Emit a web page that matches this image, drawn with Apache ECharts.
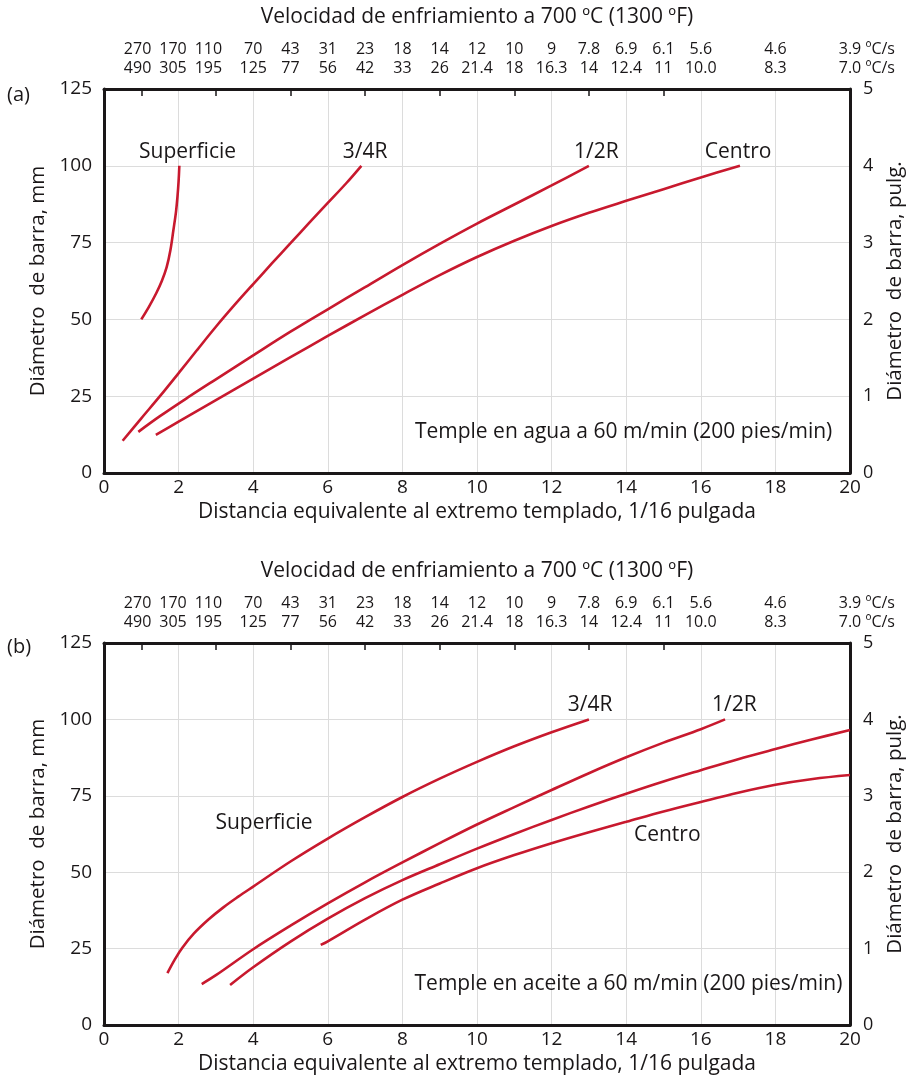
<!DOCTYPE html>
<html lang="es">
<head>
<meta charset="UTF-8">
<title>Diámetro de barra vs distancia Jominy</title>
<script src="https://cdn.jsdelivr.net/npm/echarts@6/dist/echarts.min.js"></script>
<style>
  html, body { margin: 0; padding: 0; background: #fff; }
  #chart { width: 919px; height: 1081px; }
</style>
</head>
<body>
<div id="chart"></div>
<script>
// escala superior: velocidad de enfriamiento (posicion en 1/16 pulg.)
var topLabelPos = [0.9, 1.85, 2.8, 4, 5, 6, 7, 8, 9, 10, 11, 12, 13, 14, 15, 16, 18, 20];
var rateRow1 = ['270', '170', '110', '70', '43', '31', '23', '18', '14', '12', '10', '9', '7.8', '6.9', '6.1', '5.6', '4.6', '3.9'];
var rateRow2 = ['490', '305', '195', '125', '77', '56', '42', '33', '26', '21.4', '18', '16.3', '14', '12.4', '11', '10.0', '8.3', '7.0'];
var topTicks = [1, 3, 5, 7, 9, 11, 13, 15];

// (a) temple en agua
var aSuperficie = [[1.0, 50], [1.2, 54], [1.4, 58.5], [1.55, 62.5], [1.68, 67], [1.78, 72.5], [1.86, 79], [1.93, 85], [1.97, 90], [2.0, 95], [2.02, 100]];
var a34R = [[0.5, 10.5], [1, 17.8], [1.5, 25], [2, 32.5], [2.5, 40.1], [3, 47.6], [3.5, 54.7], [4, 61.5], [4.5, 68.2], [5, 74.8], [5.5, 81.4], [6, 87.9], [6.5, 94.4], [6.9, 100]];
var a12R = [[0.92, 13.4], [1.5, 18.5], [2.3, 25], [3, 30.5], [4, 38.3], [5, 46], [6, 53.3], [7, 60.5], [8, 67.7], [9, 74.6], [10, 81.2], [11, 87.4], [12, 93.6], [13, 100]];
var aCentro = [[1.39, 12.4], [2, 16.7], [3, 23.7], [4, 30.7], [5, 37.7], [6, 44.6], [7, 51.4], [8, 58], [9, 64.4], [10, 70.3], [11, 75.6], [12, 80.4], [13, 84.7], [14, 88.6], [15, 92.4], [16, 96.2], [17.05, 100]];

// (b) temple en aceite
var bSuperficie = [[1.7, 17], [1.9, 21.5], [2.1, 25.3], [2.4, 29.8], [2.8, 34.5], [3.2, 38.5], [3.6, 42], [4, 45.3], [5, 53.5], [6, 61], [7, 68], [8, 74.6], [9, 80.6], [10, 86.1], [11, 91.2], [12, 95.8], [13, 100]];
var b34R = [[2.62, 13.4], [3, 16.3], [4, 24.8], [5, 32.5], [6, 39.8], [7, 46.7], [8, 53.2], [9, 59.5], [10, 65.6], [11, 71.3], [12, 76.9], [13, 82.4], [14, 87.6], [15, 92.4], [16, 96.8], [16.65, 100]];
var b12R = [[3.38, 13.1], [4, 18.9], [5, 27.3], [6, 34.8], [7, 41.5], [8, 47.4], [9, 52.6], [10, 57.7], [11, 62.5], [12, 67.1], [13, 71.5], [14, 75.7], [15, 79.7], [16, 83.4], [17, 87], [18, 90.3], [19, 93.5], [20, 96.5]];
var bCentro = [[5.81, 26.2], [6, 27.4], [7, 34.5], [8, 41], [9, 46.3], [10, 51.3], [11, 55.6], [12, 59.5], [13, 63.1], [14, 66.5], [15, 69.9], [16, 73], [17, 76], [18, 78.6], [19, 80.5], [20, 81.8]];

// rotulos dentro de cada grafico (coordenadas de datos)
var aNotes = [
    {name: 'Superficie', value: [2.24, 104.5]},
    {name: '3/4R', value: [7.0, 104.5]},
    {name: '1/2R', value: [13.2, 104.5]},
    {name: 'Centro', value: [17.0, 104.5]},
    {name: 'Temple en agua a 60 m/min (200 pies/min)', value: [13.93, 13.3]}
];
var bNotes = [
    {name: 'Superficie', value: [4.29, 66.1]},
    {name: '3/4R', value: [13.03, 104.7]},
    {name: '1/2R', value: [16.9, 104.7]},
    {name: 'Centro', value: [15.1, 62.2]},
    {name: 'Temple en aceite a 60 m/min (200 pies/min)', value: [14.06, 13.4]}
];

var FONT = "'Open Sans', sans-serif";
var INK = '#1a1718';
var RED = '#c8192e';
var GRIDC = '#dcdcdc';

var chart = echarts.init(document.getElementById('chart'));

function topLabel(v) {
    var i = topLabelPos.indexOf(v);
    if (i < 0) return '';
    if (i === topLabelPos.length - 1) {
        return '{p| ºC/s}' + rateRow1[i] + ' ºC/s\n{p| ºC/s}' + rateRow2[i] + ' ºC/s';
    }
    return rateRow1[i] + '\n' + rateRow2[i];
}

var grids = [
    {left: 104, right: 69, top: 89, height: 384},
    {left: 104, right: 69, top: 643, height: 382}
];

var xAxes = [], yAxes = [], series = [];
var panels = [
    {curves: [aSuperficie, a34R, a12R, aCentro], notes: aNotes},
    {curves: [bSuperficie, b34R, b12R, bCentro], notes: bNotes}
];
var curveNames = ['Superficie', '3/4R', '1/2R', 'Centro'];

panels.forEach(function (p, g) {
    // eje inferior
    xAxes.push({
        gridIndex: g, type: 'value', min: 0, max: 20, interval: 2, position: 'bottom',
        axisLine: {show: true, onZero: false, lineStyle: {color: INK, width: 3}},
        axisTick: {show: false},
        splitLine: {show: true, lineStyle: {color: GRIDC, width: 1}},
        axisLabel: {color: INK, fontFamily: FONT, fontSize: 19, margin: 5},
        name: 'Distancia equivalente al extremo templado, 1/16 pulgada',
        nameLocation: 'middle', nameGap: 29,
        nameTextStyle: {color: INK, fontFamily: FONT, fontSize: 21}
    });
    // eje superior: velocidad de enfriamiento
    xAxes.push({
        gridIndex: g, type: 'value', min: 0, max: 20, position: 'top',
        axisLine: {show: true, onZero: false, lineStyle: {color: INK, width: 3}},
        axisTick: {show: true, inside: true, length: 7, customValues: topTicks, lineStyle: {color: INK, width: 1.5}},
        splitLine: {show: false},
        axisLabel: {
            customValues: topLabelPos, formatter: topLabel,
            color: INK, fontFamily: FONT, fontSize: 16, lineHeight: 19, margin: 11,
            rich: {p: {color: 'rgba(0,0,0,0)', fontFamily: FONT, fontSize: 16}}
        },
        name: 'Velocidad de enfriamiento a 700 ºC (1300 ºF)',
        nameLocation: 'middle', nameGap: 61,
        nameTextStyle: {color: INK, fontFamily: FONT, fontSize: 21}
    });
    yAxes.push({
        gridIndex: g, type: 'value', min: 0, max: 125, interval: 25, position: 'left',
        axisLine: {show: true, onZero: false, lineStyle: {color: INK, width: 3}},
        axisTick: {show: false},
        splitLine: {show: true, lineStyle: {color: GRIDC, width: 1}},
        axisLabel: {color: INK, fontFamily: FONT, fontSize: 19, margin: 12},
        name: 'Diámetro  de barra, mm',
        nameLocation: 'middle', nameGap: 52,
        nameTextStyle: {color: INK, fontFamily: FONT, fontSize: 20.5}
    });
    yAxes.push({
        gridIndex: g, type: 'value', min: 0, max: 5, interval: 1, position: 'right',
        axisLine: {show: true, onZero: false, lineStyle: {color: INK, width: 3}},
        axisTick: {show: false},
        splitLine: {show: false},
        axisLabel: {color: INK, fontFamily: FONT, fontSize: 18, margin: 13},
        name: 'Diámetro  de barra, pulg.',
        nameLocation: 'middle', nameGap: 34,
        nameTextStyle: {color: INK, fontFamily: FONT, fontSize: 20.5}
    });

    p.curves.forEach(function (c, k) {
        series.push({
            name: curveNames[k], type: 'line',
            xAxisIndex: g * 2, yAxisIndex: g * 2,
            data: c, showSymbol: false, smooth: 0.35, silent: true,
            lineStyle: {color: RED, width: 2.6}
        });
    });

    series.push({
        type: 'scatter', xAxisIndex: g * 2, yAxisIndex: g * 2,
        data: p.notes, symbolSize: 0, silent: true,
        itemStyle: {opacity: 1},
        label: {show: true, position: 'inside', formatter: '{b}', color: INK, fontFamily: FONT, fontSize: 21}
    });
});

chart.setOption({
    backgroundColor: '#fff',
    animation: false,
    title: [
        {text: '(a)', left: 7, top: 85, padding: 0, textStyle: {color: INK, fontFamily: FONT, fontSize: 20, fontWeight: 'normal'}},
        {text: '(b)', left: 7, top: 637, padding: 0, textStyle: {color: INK, fontFamily: FONT, fontSize: 20, fontWeight: 'normal'}}
    ],
    grid: grids,
    xAxis: xAxes,
    yAxis: yAxes,
    series: series
});
</script>
</body>
</html>
